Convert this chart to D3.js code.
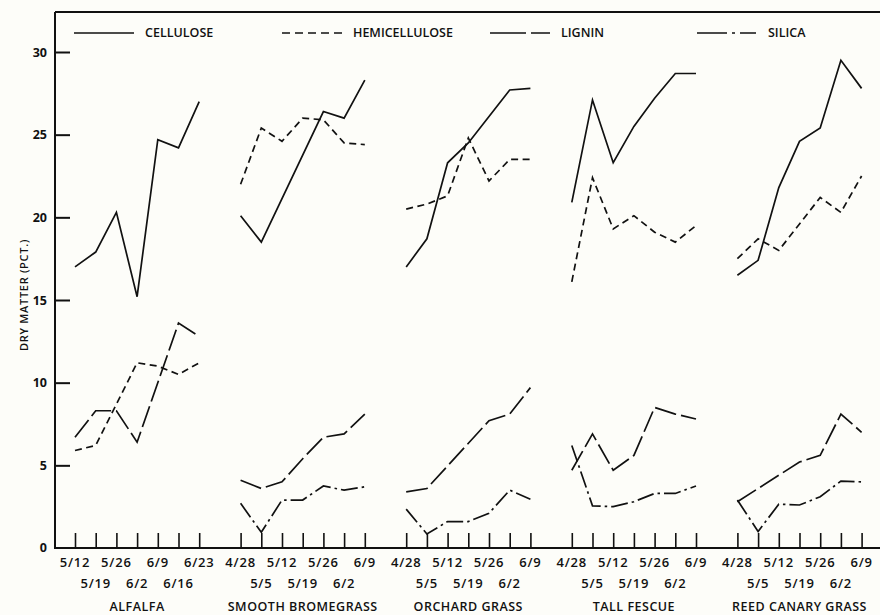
<!DOCTYPE html>
<html>
<head>
<meta charset="utf-8">
<script src="https://cdn.jsdelivr.net/npm/d3@7"></script>
<style>
  html, body { margin: 0; padding: 0; background: #fdfdf9; }
  svg { display: block; }
  text { font-family: "Open Sans", "DejaVu Sans", sans-serif; font-weight: 600; fill: #111; }
</style>
</head>
<body>
<script>
// ---- data ----
const groups = ["ALFALFA", "SMOOTH BROMEGRASS", "ORCHARD GRASS", "TALL FESCUE", "REED CANARY GRASS"];
const alfalfaDates = ["5/12", "5/19", "5/26", "6/2", "6/9", "6/16", "6/23"];
const grassDates = ["4/28", "5/5", "5/12", "5/19", "5/26", "6/2", "6/9"];
const yTicks = [5, 10, 15, 20, 25, 30];
const yTickLabels = ["0", "5", "10", "15", "20", "25", "30"];

const cellulose = [
  [17.0, 17.9, 20.3, 15.2, 24.7, 24.2, 27.0],
  [20.1, 18.5, null, null, 26.4, 26.0, 28.3],
  [17.0, 18.7, 23.3, 24.5, 26.1, 27.7, 27.8],
  [20.9, 27.1, 23.3, 25.5, 27.2, 28.7, 28.7],
  [16.5, 17.4, 21.8, 24.6, 25.4, 29.5, 27.8]
];
const hemicellulose = [
  [5.9, 6.2, null, 11.2, 11.0, 10.5, 11.2],
  [22.0, 25.4, 24.6, 26.0, 25.9, 24.5, 24.4],
  [20.5, 20.8, 21.3, 24.8, 22.2, 23.5, 23.5],
  [16.1, 22.4, 19.3, 20.1, 19.1, 18.5, 19.5],
  [17.5, 18.7, 18.0, 19.6, 21.2, 20.3, 22.5]
];
const lignin = [
  [6.7, 8.3, 8.3, 6.4, null, 13.6, 12.8],
  [4.1, 3.6, 4.0, 5.4, 6.7, 6.9, 8.1],
  [3.4, 3.6, null, null, 7.7, 8.1, 9.7],
  [4.7, 6.9, 4.7, 5.6, 8.5, 8.1, 7.8],
  [2.8, null, null, 5.2, 5.6, 8.1, 7.0]
];
const silica = [
  [null, null, null, null, null, null, null],
  [2.7, 0.95, 2.9, 2.9, 3.75, 3.5, 3.7],
  [2.35, 0.85, 1.6, 1.6, 2.1, 3.5, 2.95],
  [6.2, 2.55, 2.5, 2.8, 3.3, 3.3, 3.75],
  [2.9, 1.0, 2.65, 2.6, 3.1, 4.05, 4.0]
];
const seriesNames = ["CELLULOSE", "HEMICELLULOSE", "LIGNIN", "SILICA"];

// ---- styles ----
const seriesData = [cellulose, hemicellulose, lignin, silica];
const dashes = [null, "7,4.5", "22,5", "17,4,2.5,4"];
const legendDashes = [null, "8,5", "36,5,19", "30,5,3,5,16"];
const legendX = [74, 282, 490, 697];

const W = 880, H = 615;
const svg = d3.select("body").append("svg").attr("width", W).attr("height", H);

const x = d3.scaleLinear().domain([0, 38]).range([75, 861.6]);
const y = d3.scaleLinear().domain([0, 30]).range([548, 52]);
const slot = (g, i) => g * 8 + i;

const ink = "#111";

// frame: top line, left axis, bottom axis
svg.append("line").attr("x1", 55).attr("x2", 880).attr("y1", 12).attr("y2", 12)
  .attr("stroke", ink).attr("stroke-width", 1.8);

const yAxis = d3.axisLeft(y).tickValues(yTicks).tickSize(-15).tickSizeOuter(0)
  .tickFormat(d => yTickLabels[d / 5]);
const yg = svg.append("g").attr("transform", "translate(55,0)").call(yAxis);
yg.select(".domain").remove();
yg.selectAll(".tick line").attr("stroke", ink).attr("stroke-width", 2);
yg.selectAll(".tick text").attr("x", -8).style("font-size", "12.5px").style("font-weight", 700)
  .attr("font-family", null);
svg.append("text").attr("x", 47).attr("y", y(0)).attr("dy", "0.32em").attr("text-anchor", "end")
  .style("font-size", "12.5px").style("font-weight", 700).text(yTickLabels[0]);
svg.append("line").attr("x1", 55).attr("x2", 55).attr("y1", 12).attr("y2", 549)
  .attr("stroke", ink).attr("stroke-width", 2);

// bottom axis with ticks per group
const allSlots = [];
groups.forEach((g, gi) => d3.range(7).forEach(i => allSlots.push(slot(gi, i))));
const xAxis = d3.axisBottom(x).tickValues(allSlots).tickSize(-15).tickSizeOuter(0).tickFormat("");
const xg = svg.append("g").attr("transform", "translate(0,548)").call(xAxis);
xg.select(".domain").remove();
xg.selectAll(".tick line").attr("stroke", ink).attr("stroke-width", 1.6);
svg.append("line").attr("x1", 54).attr("x2", 880).attr("y1", 548).attr("y2", 548)
  .attr("stroke", ink).attr("stroke-width", 2);

// date labels in two staggered rows + group labels
groups.forEach((g, gi) => {
  const dates = gi === 0 ? alfalfaDates : grassDates;
  dates.forEach((d, i) => {
    svg.append("text")
      .attr("x", x(slot(gi, i)))
      .attr("y", i % 2 === 0 ? 562 : 583)
      .attr("dy", "0.35em")
      .attr("text-anchor", "middle")
      .style("font-size", "13px")
      .style("letter-spacing", "0.8px")
      .text(d);
  });
  svg.append("text")
    .attr("x", (x(slot(gi, 0)) + x(slot(gi, 6))) / 2)
    .attr("y", 611)
    .attr("text-anchor", "middle")
    .style("font-size", "12.5px")
    .style("letter-spacing", "0.5px")
    .text(g);
});

// y title
svg.append("text")
  .attr("transform", "translate(24,295) rotate(-90)")
  .attr("text-anchor", "middle").attr("dy", "0.35em")
  .style("font-size", "11px")
  .style("letter-spacing", "0.7px")
  .text("DRY MATTER (PCT.)");

// series lines
const line = d3.line().x(d => x(d.s)).y(d => y(d.v));
seriesData.forEach((ser, si) => {
  ser.forEach((vals, gi) => {
    const pts = vals.map((v, i) => ({ s: slot(gi, i), v })).filter(d => d.v != null);
    if (pts.length < 2) return;
    svg.append("path").datum(pts)
      .attr("d", line)
      .attr("fill", "none")
      .attr("stroke", ink)
      .attr("stroke-width", 1.7)
      .attr("stroke-linejoin", "miter")
      .attr("stroke-dasharray", dashes[si]);
  });
});

// legend
seriesNames.forEach((n, si) => {
  const lx = legendX[si];
  svg.append("line").attr("x1", lx).attr("x2", lx + 60).attr("y1", 33).attr("y2", 33)
    .attr("stroke", ink).attr("stroke-width", 1.7)
    .attr("stroke-dasharray", legendDashes[si]);
  svg.append("text").attr("x", lx + 71).attr("y", 33).attr("dy", "0.35em")
    .style("font-size", "12.5px").text(n);
});
</script>
</body>
</html>
